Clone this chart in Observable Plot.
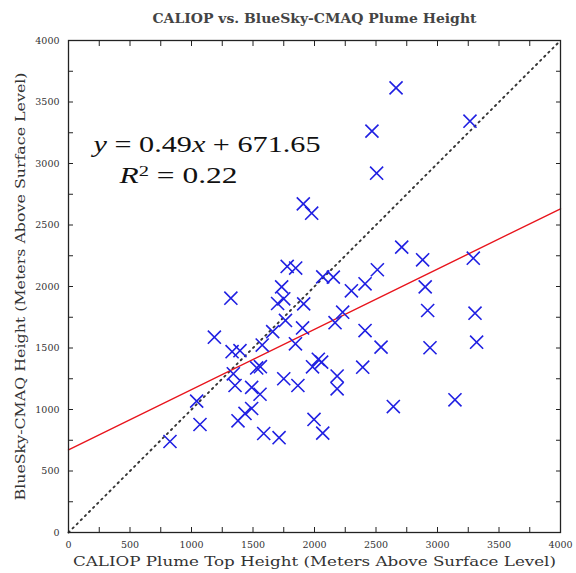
<!DOCTYPE html>
<html>
<head>
<meta charset="utf-8">
<script src="https://cdn.jsdelivr.net/npm/d3@7"></script>
<script src="https://cdn.jsdelivr.net/npm/@observablehq/plot@0.6"></script>
<style>
  html, body { margin: 0; padding: 0; background: #fff; }
</style>
</head>
<body>
<div id="chart"></div>
<script>
const title = "CALIOP vs. BlueSky-CMAQ Plume Height";
const xLabel = "CALIOP Plume Top Height (Meters Above Surface Level)";
const yLabel = "BlueSky-CMAQ Height (Meters Above Surface Level)";
const tickValues = [0,250,500,750,1000,1250,1500,1750,2000,2250,2500,2750,3000,3250,3500,3750,4000];
const slope = 0.49;
const intercept = 671.65;
const rSquared = 0.22;

const caliop = [825,1042,1069,1186,1320,1330,1394,1340,1354,1378,1435,1489,1489,1557,1530,1560,1575,1587,1712,1660,1700,1750,1733,1764,1750,1778,1847,1845,1865,1909,1977,1912,1903,1984,2031,2058,1996,2067,2067,2153,2167,2229,2184,2184,2300,2411,2411,2392,2467,2505,2511,2541,2641,2663,2709,2879,2900,2920,2939,3142,3264,3291,3305,3318];
const bluesky = [740,1068,878,1588,1905,1470,1478,1290,1195,908,968,1008,1180,1124,1338,1348,1524,805,771,1633,1862,1900,1997,1724,1250,2163,2150,1534,1195,2672,2596,1859,1663,1347,1408,1385,919,808,2078,2076,1706,1791,1272,1168,1965,2022,1642,1344,3263,2921,2136,1507,1024,3615,2320,2217,1997,1805,1502,1079,3344,2230,1783,1547];

const points = caliop.map((x, i) => ({x, y: bluesky[i]}));
const domainEnds = [0, 4000];
const oneToOne = domainEnds.map(v => ({x: v, y: v}));
const fitLine = domainEnds.map(v => ({x: v, y: slope * v + intercept}));

const serif = "DejaVu Serif, Liberation Serif, serif";
const mathSerif = "Liberation Serif, DejaVu Serif, serif";

const chart = Plot.plot({
  width: 576,
  height: 573,
  marginLeft: 68,
  marginRight: 16,
  marginTop: 40,
  marginBottom: 41,
  style: {fontFamily: serif, background: "#fff", color: "#222"},
  x: {domain: [0, 4000]},
  y: {domain: [0, 4000]},
  marks: [
    Plot.line(oneToOne, {x: "x", y: "y", stroke: "#333", strokeWidth: 1.9, strokeDasharray: "1.4,4.4", strokeLinecap: "round"}),
    Plot.line(fitLine, {x: "x", y: "y", stroke: "#e8141c", strokeWidth: 1.4}),
    Plot.dot(points, {x: "x", y: "y", symbol: "times", r: 6, stroke: "#2020e2", strokeWidth: 1.6}),
    Plot.axisX({anchor: "bottom", ticks: tickValues, tickSize: -5, tickFormat: d => d % 500 ? "" : String(d), fontSize: 9.5, label: null, stroke: "#222", fill: "#333"}),
    Plot.axisX({anchor: "top", ticks: tickValues, tickSize: -5, tickFormat: () => "", label: null, stroke: "#222"}),
    Plot.axisY({anchor: "left", ticks: tickValues, tickSize: -5, tickFormat: d => d % 500 ? "" : String(d), fontSize: 9.5, label: null, stroke: "#222", fill: "#333"}),
    Plot.axisY({anchor: "right", ticks: tickValues, tickSize: -5, tickFormat: () => "", label: null, stroke: "#222"}),
    Plot.frame({stroke: "#222", strokeWidth: 1.3}),
    Plot.text([title], {frameAnchor: "top", dy: -26, fontSize: 12, fontWeight: "bold", fill: "#444", fontFamily: serif}),
    Plot.text([xLabel], {frameAnchor: "bottom", dy: 33, fontSize: 13, fill: "#333", fontFamily: serif}),
    Plot.text([yLabel], {frameAnchor: "left", dx: -48, rotate: -90, textAnchor: "middle", fontSize: 13, fill: "#333", fontFamily: serif}),
    Plot.text([`y = ${slope}x + ${intercept}`], {frameAnchor: "top-left", dx: 25, dy: 95, fontSize: 23, textAnchor: "start", fill: "#111", fontFamily: mathSerif}),
    Plot.text([`R2 = ${rSquared}`], {frameAnchor: "top-left", dx: 51, dy: 126, fontSize: 23, textAnchor: "start", fill: "#111", fontFamily: mathSerif})
  ]
});

// Math-style italics and stretched text widths as in the reference
d3.select(chart).selectAll("text").each(function() {
  const t = this.textContent;
  const sel = d3.select(this);
  if (t === `y = ${slope}x + ${intercept}`) {
    sel.text(null).attr("textLength", 227).attr("lengthAdjust", "spacingAndGlyphs");
    sel.append("tspan").attr("font-style", "italic").text("y");
    sel.append("tspan").text(` = ${slope}`);
    sel.append("tspan").attr("font-style", "italic").text("x");
    sel.append("tspan").text(` + ${intercept}`);
  } else if (t === `R2 = ${rSquared}`) {
    sel.text(null).attr("textLength", 118).attr("lengthAdjust", "spacingAndGlyphs");
    sel.append("tspan").attr("font-style", "italic").text("R");
    sel.append("tspan").attr("font-size", 15).attr("dy", "-0.45em").text("2");
    sel.append("tspan").attr("dy", "0.3em").text(` = ${rSquared}`);
  } else if (t === title) {
    sel.attr("textLength", 324).attr("lengthAdjust", "spacingAndGlyphs");
  } else if (t === xLabel) {
    sel.attr("textLength", 483).attr("lengthAdjust", "spacingAndGlyphs");
  } else if (t === yLabel) {
    sel.attr("textLength", 428).attr("lengthAdjust", "spacingAndGlyphs");
  }
});

document.getElementById("chart").appendChild(chart);
</script>
</body>
</html>
